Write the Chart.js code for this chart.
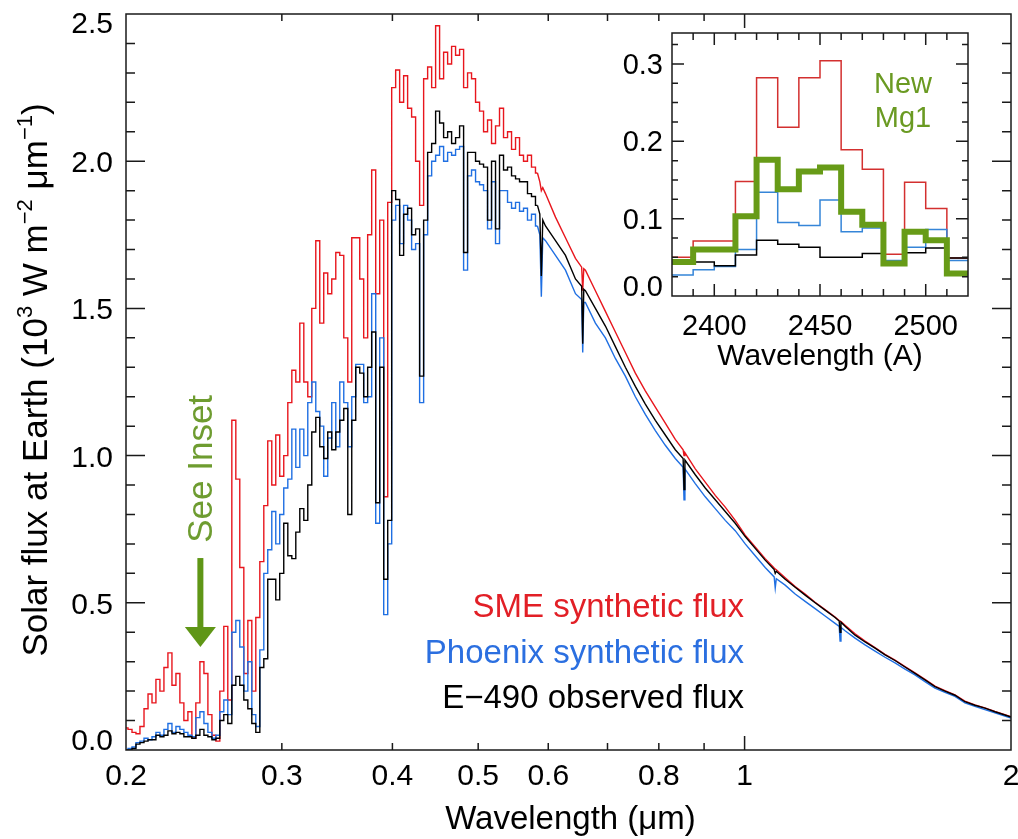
<!DOCTYPE html>
<html>
<head>
<meta charset="utf-8">
<script src="https://cdn.jsdelivr.net/npm/chart.js@4.4.1/dist/chart.umd.min.js"></script>
<style>
  body { margin: 0; background: #fff; }
  #wrap { position: relative; width: 1018px; height: 839px; }
  #main { position: absolute; left: 0; top: 0; }
  #inset { position: absolute; left: 600px; top: 20px; }
</style>
</head>
<body>
<div id="wrap">
  <canvas id="main" width="1018" height="839"></canvas>
  <canvas id="inset" width="390" height="360"></canvas>
</div>
<script>
const FONT = '"Liberation Sans", Arial, Helvetica, sans-serif';

// wavelength (micron) of each flux sample
const wave = [
  0.2000, 0.2021, 0.2042, 0.2063, 0.2085, 0.2107, 0.2129, 0.2151, 0.2173, 0.2196,
  0.2219, 0.2242, 0.2266, 0.2289, 0.2313, 0.2337, 0.2362, 0.2386, 0.2411, 0.2437,
  0.2462, 0.2488, 0.2514, 0.2540, 0.2566, 0.2593, 0.2620, 0.2648, 0.2675, 0.2703,
  0.2732, 0.2760, 0.2789, 0.2818, 0.2848, 0.2877, 0.2907, 0.2938, 0.2968, 0.2999,
  0.3031, 0.3063, 0.3095, 0.3127, 0.3160, 0.3193, 0.3226, 0.3260, 0.3294, 0.3328,
  0.3363, 0.3398, 0.3434, 0.3470, 0.3506, 0.3543, 0.3580, 0.3617, 0.3655, 0.3693,
  0.3731, 0.3770, 0.3810, 0.3850, 0.3890, 0.3931, 0.3972, 0.4013, 0.4055, 0.4097,
  0.4140, 0.4183, 0.4227, 0.4271, 0.4316, 0.4361, 0.4407, 0.4453, 0.4499, 0.4546,
  0.4594, 0.4642, 0.4690, 0.4739, 0.4789, 0.4839, 0.4889, 0.4940, 0.4992, 0.5044,
  0.5097, 0.5150, 0.5204, 0.5258, 0.5313, 0.5369, 0.5425, 0.5482, 0.5539, 0.5597,
  0.5655, 0.5714, 0.5774, 0.5834,
  0.5870, 0.5893, 0.5915, 0.5957, 0.6114, 0.6275, 0.6440, 0.6545, 0.6563, 0.6581,
  0.6609, 0.6783, 0.6962, 0.7145, 0.7333, 0.7526, 0.7724, 0.7928, 0.8136, 0.8350,
  0.8522, 0.8542, 0.8562, 0.8796, 0.9027, 0.9265, 0.9509, 0.9759, 1.0016, 1.0280,
  1.0550, 1.0800, 1.0830, 1.0860, 1.1113, 1.1406, 1.1706, 1.2014, 1.2330, 1.2655,
  1.2790, 1.2820, 1.2850, 1.2988, 1.3330, 1.3681, 1.4041, 1.4411, 1.4790, 1.5180,
  1.5579, 1.5989, 1.6410, 1.6842, 1.7286, 1.7740, 1.8207, 1.8687, 1.9179, 1.9684,
  2.0000
];

// flux, 10^3 W m-2 um-1
const smeFlux = [
  0.075, 0.07, 0.06, 0.055, 0.08, 0.14, 0.19, 0.16, 0.24, 0.20,
  0.28, 0.33, 0.22, 0.26, 0.16, 0.10, 0.13, 0.04, 0.16, 0.30,
  0.26, 0.12, 0.05, 0.03, 0.20, 0.42, 0.17, 1.12, 0.92, 0.62,
  0.26, 0.44, 0.20, 0.45, 0.64, 0.83, 1.05, 0.90, 1.07, 0.93,
  1.00, 1.18, 1.29, 1.25, 1.45, 1.25, 1.20, 1.50, 1.73, 1.45,
  1.62, 1.55, 1.60, 1.69, 1.68, 1.40, 1.25, 1.74, 1.74, 1.60,
  1.40, 1.75, 1.97, 1.55, 1.80, 0.86, 1.86, 2.25, 2.31, 2.20,
  2.29, 2.18, 2.15, 2.00, 1.85, 2.28, 2.32, 2.25, 2.46, 2.28,
  2.37, 2.33, 2.39, 2.36, 2.38, 2.25, 2.30, 2.28, 2.20, 2.17,
  2.10, 2.14, 2.06, 2.12, 2.18, 2.08, 2.10, 2.04, 2.08, 2.02,
  2.00, 2.02, 1.98, 1.96,
  1.93, 1.90, 1.91, 1.89, 1.81, 1.74, 1.67, 1.64, 1.56, 1.635,
  1.63, 1.56, 1.49, 1.42, 1.35, 1.28, 1.22, 1.165, 1.11, 1.055,
  1.02, 1.00, 1.01, 0.955, 0.91, 0.865, 0.825, 0.78, 0.73, 0.69,
  0.65, 0.618, 0.615, 0.612, 0.585, 0.555, 0.53, 0.502, 0.477, 0.452,
  0.44, 0.438, 0.436, 0.424, 0.395, 0.37, 0.348, 0.325, 0.305, 0.283,
  0.262, 0.24, 0.217, 0.202, 0.187, 0.166, 0.153, 0.143, 0.131, 0.12,
  0.113
];

const phoenixFlux = [
  0.00, 0.005, 0.01, 0.025, 0.03, 0.04, 0.035, 0.045, 0.06, 0.05,
  0.07, 0.09, 0.06, 0.08, 0.07, 0.06, 0.05, 0.045, 0.11, 0.13,
  0.09, 0.06, 0.04, 0.05, 0.13, 0.17, 0.12, 0.40, 0.44, 0.35,
  0.20, 0.30, 0.12, 0.08, 0.34, 0.60, 0.68, 0.81, 0.70, 0.80,
  0.89, 0.92, 1.09, 0.96, 1.09, 1.00, 1.18, 1.25, 1.15, 1.10,
  0.93, 1.06, 1.18, 1.03, 1.25, 1.18, 1.03, 1.20, 1.31, 1.31,
  1.18, 1.20, 1.55, 0.77, 1.40, 0.46, 0.70, 1.80, 1.85, 1.72,
  1.85, 1.80, 1.70, 1.72, 1.18, 1.75, 1.95, 2.00, 2.02, 2.05,
  2.00, 2.03, 2.02, 2.04, 2.05, 1.63, 1.95, 1.97, 1.93, 1.92,
  1.90, 1.77, 1.93, 1.72, 1.90, 1.90, 1.86, 1.84, 1.86, 1.83,
  1.84, 1.80, 1.82, 1.78,
  1.75, 1.54, 1.74, 1.73, 1.68, 1.63, 1.55, 1.53, 1.35, 1.52,
  1.52, 1.45, 1.40, 1.33, 1.27, 1.20, 1.14, 1.085, 1.035, 0.99,
  0.96, 0.85, 0.955, 0.905, 0.86, 0.82, 0.78, 0.745, 0.70, 0.66,
  0.62, 0.588, 0.55, 0.582, 0.56, 0.53, 0.505, 0.48, 0.455, 0.43,
  0.42, 0.37, 0.416, 0.405, 0.38, 0.357, 0.336, 0.315, 0.296, 0.275,
  0.255, 0.232, 0.21, 0.196, 0.182, 0.16, 0.148, 0.137, 0.126, 0.115,
  0.108
];

const e490Flux = [
  0.00, 0.00, 0.005, 0.02, 0.025, 0.03, 0.035, 0.035, 0.05, 0.045,
  0.05, 0.065, 0.055, 0.06, 0.055, 0.045, 0.045, 0.04, 0.05, 0.07,
  0.05, 0.045, 0.035, 0.04, 0.10, 0.12, 0.09, 0.22, 0.25, 0.22,
  0.17, 0.14, 0.09, 0.06, 0.28, 0.31, 0.58, 0.58, 0.51, 0.60,
  0.77, 0.66, 0.65, 0.74, 0.82, 0.78, 0.90, 1.08, 1.13, 1.03,
  0.99, 1.08, 1.02, 1.08, 1.12, 1.16, 0.80, 1.12, 1.30, 1.28,
  1.20, 1.30, 1.42, 0.84, 1.30, 0.58, 0.78, 1.90, 1.87, 1.68,
  1.82, 1.84, 1.75, 1.77, 1.27, 1.80, 2.03, 2.06, 2.17, 2.13,
  2.08, 2.10, 2.06, 2.08, 2.12, 1.69, 2.03, 2.03, 2.00, 1.99,
  1.98, 1.80, 2.00, 1.77, 2.02, 1.97, 1.98, 1.95, 1.94, 1.93,
  1.93, 1.89, 1.88, 1.85,
  1.82, 1.61, 1.80, 1.78, 1.73, 1.68, 1.60, 1.575, 1.38, 1.565,
  1.56, 1.50, 1.44, 1.37, 1.30, 1.235, 1.175, 1.12, 1.07, 1.02,
  0.99, 0.885, 0.985, 0.935, 0.89, 0.85, 0.81, 0.77, 0.725, 0.685,
  0.645, 0.613, 0.60, 0.607, 0.58, 0.553, 0.526, 0.50, 0.475, 0.45,
  0.438, 0.40, 0.434, 0.42, 0.39, 0.367, 0.346, 0.323, 0.304, 0.282,
  0.26, 0.238, 0.215, 0.20, 0.186, 0.164, 0.152, 0.142, 0.13, 0.119,
  0.112
];

// samples up to this index are drawn as a histogram, the rest as a plain line
const STEP_END = 103;

const seriesNames = ['SME synthetic flux', 'Phoenix synthetic flux', 'E\u2212490 observed flux'];
const seriesColors = ['#e8161d', '#1f6fe2', '#000000'];
const legendColors = ['#e21f26', '#2b6fe0', '#000000'];

const xTickLabels = [0.2, 0.3, 0.4, 0.5, 0.6, 0.8, 1, 2];
const xMinorTicks = [0.3, 0.4, 0.5, 0.6, 0.7, 0.8, 0.9];
const xMajorTicks = [1];
const yTickLabels = [0, 0.5, 1, 1.5, 2, 2.5];

// inset: Mg I region, 10 A bins (value of each bin starts at its left edge)
const insetEdges = [2380, 2390, 2400, 2410, 2420, 2430, 2440, 2450, 2460, 2470, 2480, 2490, 2500, 2510, 2520];
const insetSme = [0.050, 0.071, 0.071, 0.148, 0.282, 0.218, 0.282, 0.304, 0.189, 0.164, 0.054, 0.147, 0.113, 0.049];
const insetPhoenix = [0.027, 0.034, 0.038, 0.060, 0.134, 0.095, 0.091, 0.124, 0.083, 0.088, 0.046, 0.063, 0.086, 0.046];
const insetE490 = [0.043, 0.044, 0.039, 0.053, 0.072, 0.067, 0.063, 0.050, 0.050, 0.055, 0.044, 0.056, 0.062, 0.049];
const insetNewMg1 = [0.044, 0.060, 0.060, 0.103, 0.176, 0.138, 0.161, 0.166, 0.109, 0.092, 0.042, 0.083, 0.072, 0.029];
const insetXLabels = [2400, 2450, 2500];
const insetYLabels = [0, 0.1, 0.2, 0.3];

function drawRich(ctx, parts, x, y, size) {
  const supSize = Math.round(size * 0.62);
  let total = 0;
  const widths = parts.map(([t, sup]) => {
    ctx.font = (sup ? supSize : size) + 'px ' + FONT;
    const w = ctx.measureText(t).width;
    total += w;
    return w;
  });
  ctx.textAlign = 'left';
  let cx = x - total / 2;
  parts.forEach(([t, sup], i) => {
    ctx.font = (sup ? supSize : size) + 'px ' + FONT;
    ctx.fillText(t, cx, sup ? y - size * 0.42 : y);
    cx += widths[i];
  });
}

// box frame, inward ticks on all four sides and tick labels
const boxAxes = {
  id: 'boxAxes',
  afterDatasetsDraw(chart, args, o) {
    const { ctx, chartArea: a } = chart;
    const xs = chart.scales.x, ys = chart.scales.y;
    ctx.save();
    ctx.strokeStyle = '#1a1a1a';
    ctx.lineWidth = o.lineWidth;
    ctx.beginPath();
    o.xTicks.forEach(([v, len]) => {
      const p = xs.getPixelForValue(v);
      ctx.moveTo(p, a.bottom); ctx.lineTo(p, a.bottom - len);
      ctx.moveTo(p, a.top); ctx.lineTo(p, a.top + len);
    });
    o.yTicks.forEach(([v, len]) => {
      const p = ys.getPixelForValue(v);
      ctx.moveTo(a.left, p); ctx.lineTo(a.left + len, p);
      ctx.moveTo(a.right, p); ctx.lineTo(a.right - len, p);
    });
    ctx.stroke();
    ctx.strokeRect(a.left, a.top, a.right - a.left, a.bottom - a.top);

    ctx.fillStyle = '#000';
    ctx.font = o.tickFont;
    ctx.textBaseline = 'alphabetic';
    ctx.textAlign = 'center';
    o.xLabels.forEach(v => ctx.fillText(String(v), xs.getPixelForValue(v), o.xLabelY));
    ctx.textAlign = 'right';
    o.yLabels.forEach(v => {
      const p = ys.getPixelForValue(v);
      const base = Math.min(Math.max(p + o.yLabelShift, a.top + o.yLabelTop), a.bottom);
      ctx.fillText(v.toFixed(1), a.left - o.yLabelGap, base);
    });
    ctx.restore();
  }
};

const mainText = {
  id: 'mainText',
  afterDraw(chart) {
    const { ctx, chartArea: a, scales: { x, y } } = chart;
    ctx.save();
    ctx.textBaseline = 'alphabetic';
    ctx.fillStyle = '#000';

    ctx.save();
    ctx.translate(47, (a.top + a.bottom) / 2 - 2);
    ctx.rotate(-Math.PI / 2);
    drawRich(ctx, [
      ['Solar flux at Earth (10', 0], ['3', 1], [' W m', 0], ['\u22122', 1],
      [' \u03bcm', 0], ['\u22121', 1], [')', 0]
    ], 0, 0, 35);
    ctx.restore();

    ctx.font = '33px ' + FONT;
    ctx.textAlign = 'center';
    ctx.fillText('Wavelength (\u03bcm)', (a.left + a.right) / 2 + 2, 829);

    ctx.textAlign = 'right';
    seriesNames.forEach((n, i) => {
      ctx.fillStyle = legendColors[i];
      ctx.fillText(n, 744, 617 + i * 45.5);
    });

    // "See Inset" pointer near 0.243 micron
    const ax = x.getPixelForValue(0.2427);
    const yTop = y.getPixelForValue(0.652);
    const yNeck = y.getPixelForValue(0.418);
    const yTip = y.getPixelForValue(0.35);
    ctx.fillStyle = '#5f9616';
    ctx.fillRect(ax - 3, yTop, 6, yNeck - yTop + 1);
    ctx.beginPath();
    ctx.moveTo(ax - 15.5, yNeck);
    ctx.lineTo(ax + 15.5, yNeck);
    ctx.lineTo(ax, yTip);
    ctx.closePath();
    ctx.fill();

    ctx.save();
    ctx.translate(ax + 12, y.getPixelForValue(0.955));
    ctx.rotate(-Math.PI / 2);
    ctx.font = '35px ' + FONT;
    ctx.textAlign = 'center';
    ctx.fillStyle = '#6e9c30';
    ctx.fillText('See Inset', 0, 0);
    ctx.restore();
    ctx.restore();
  }
};

const insetText = {
  id: 'insetText',
  afterDraw(chart) {
    const { ctx, chartArea: a } = chart;
    ctx.save();
    ctx.textBaseline = 'alphabetic';
    ctx.textAlign = 'center';
    ctx.fillStyle = '#000';
    ctx.font = '30px ' + FONT;
    ctx.fillText('Wavelength (A)', (a.left + a.right) / 2, 345);
    ctx.fillStyle = '#6a9a22';
    ctx.font = '29px ' + FONT;
    ctx.fillText('New', 303, 73);
    ctx.fillText('Mg1', 303, 107);
    ctx.restore();
  }
};

// main chart
const mainSets = [];
[smeFlux, phoenixFlux, e490Flux].forEach((vals, k) => {
  const pts = wave.map((w, i) => ({ x: w, y: vals[i] }));
  const common = {
    borderColor: seriesColors[k], borderWidth: 1.4, pointRadius: 0,
    fill: false, order: 3 - k, label: seriesNames[k]
  };
  mainSets.push(Object.assign({ data: pts.slice(0, STEP_END + 1), stepped: 'middle' }, common));
  mainSets.push(Object.assign({ data: pts.slice(STEP_END), stepped: false, tension: 0 }, common));
});

const mainTicksX = xMinorTicks.map(v => [v, 7]).concat(xMajorTicks.map(v => [v, 14]));
const mainTicksY = [];
for (let k = 1; k < 25; k++) mainTicksY.push([k / 10, k % 5 === 0 ? 19 : 9]);

new Chart(document.getElementById('main'), {
  type: 'line',
  data: { datasets: mainSets },
  options: {
    responsive: false, animation: false, devicePixelRatio: 1, events: [],
    layout: { padding: { left: 126, right: 7, top: 14, bottom: 89 } },
    scales: {
      x: { type: 'logarithmic', min: 0.2, max: 2, display: false },
      y: { type: 'linear', min: 0, max: 2.5, display: false }
    },
    plugins: {
      legend: { display: false }, tooltip: { enabled: false },
      boxAxes: {
        lineWidth: 1.5, xTicks: mainTicksX, yTicks: mainTicksY,
        tickFont: '30px ' + FONT, xLabels: xTickLabels, xLabelY: 785,
        yLabels: yTickLabels, yLabelShift: 11, yLabelTop: 19, yLabelGap: 13
      }
    }
  },
  plugins: [boxAxes, mainText]
});

// inset chart
const insetSeries = [
  { vals: insetNewMg1, color: '#679b17', width: 6, order: 0 },
  { vals: insetE490, color: '#000000', width: 1.5, order: 1 },
  { vals: insetPhoenix, color: '#3585d8', width: 1.5, order: 2 },
  { vals: insetSme, color: '#d3302f', width: 1.5, order: 3 }
];
const insetSets = insetSeries.map(s => ({
  data: insetEdges.map((e, i) => ({ x: e, y: s.vals[Math.min(i, s.vals.length - 1)] })),
  stepped: 'before', borderColor: s.color, borderWidth: s.width, pointRadius: 0,
  fill: false, order: s.order, borderJoinStyle: 'miter', borderCapStyle: 'butt'
}));

const insetTicksX = [];
for (let w = 2390; w < 2520; w += 10) insetTicksX.push([w, w % 50 === 0 ? 12 : 7]);
const insetTicksY = [];
for (let k = 1; k <= 13; k++) insetTicksY.push([k * 0.025, k % 4 === 0 ? 12 : 6]);

new Chart(document.getElementById('inset'), {
  type: 'line',
  data: { datasets: insetSets },
  options: {
    responsive: false, animation: false, devicePixelRatio: 1, events: [],
    layout: { padding: { left: 72, right: 22, top: 13, bottom: 84 } },
    scales: {
      x: { type: 'linear', min: 2380, max: 2520, display: false },
      y: { type: 'linear', min: 0, max: 0.34, display: false }
    },
    plugins: {
      legend: { display: false }, tooltip: { enabled: false },
      boxAxes: {
        lineWidth: 1.5, xTicks: insetTicksX, yTicks: insetTicksY,
        tickFont: '29px ' + FONT, xLabels: insetXLabels, xLabelY: 315,
        yLabels: insetYLabels, yLabelShift: 10, yLabelTop: 19, yLabelGap: 9
      }
    }
  },
  plugins: [boxAxes, insetText]
});
</script>
</body>
</html>
